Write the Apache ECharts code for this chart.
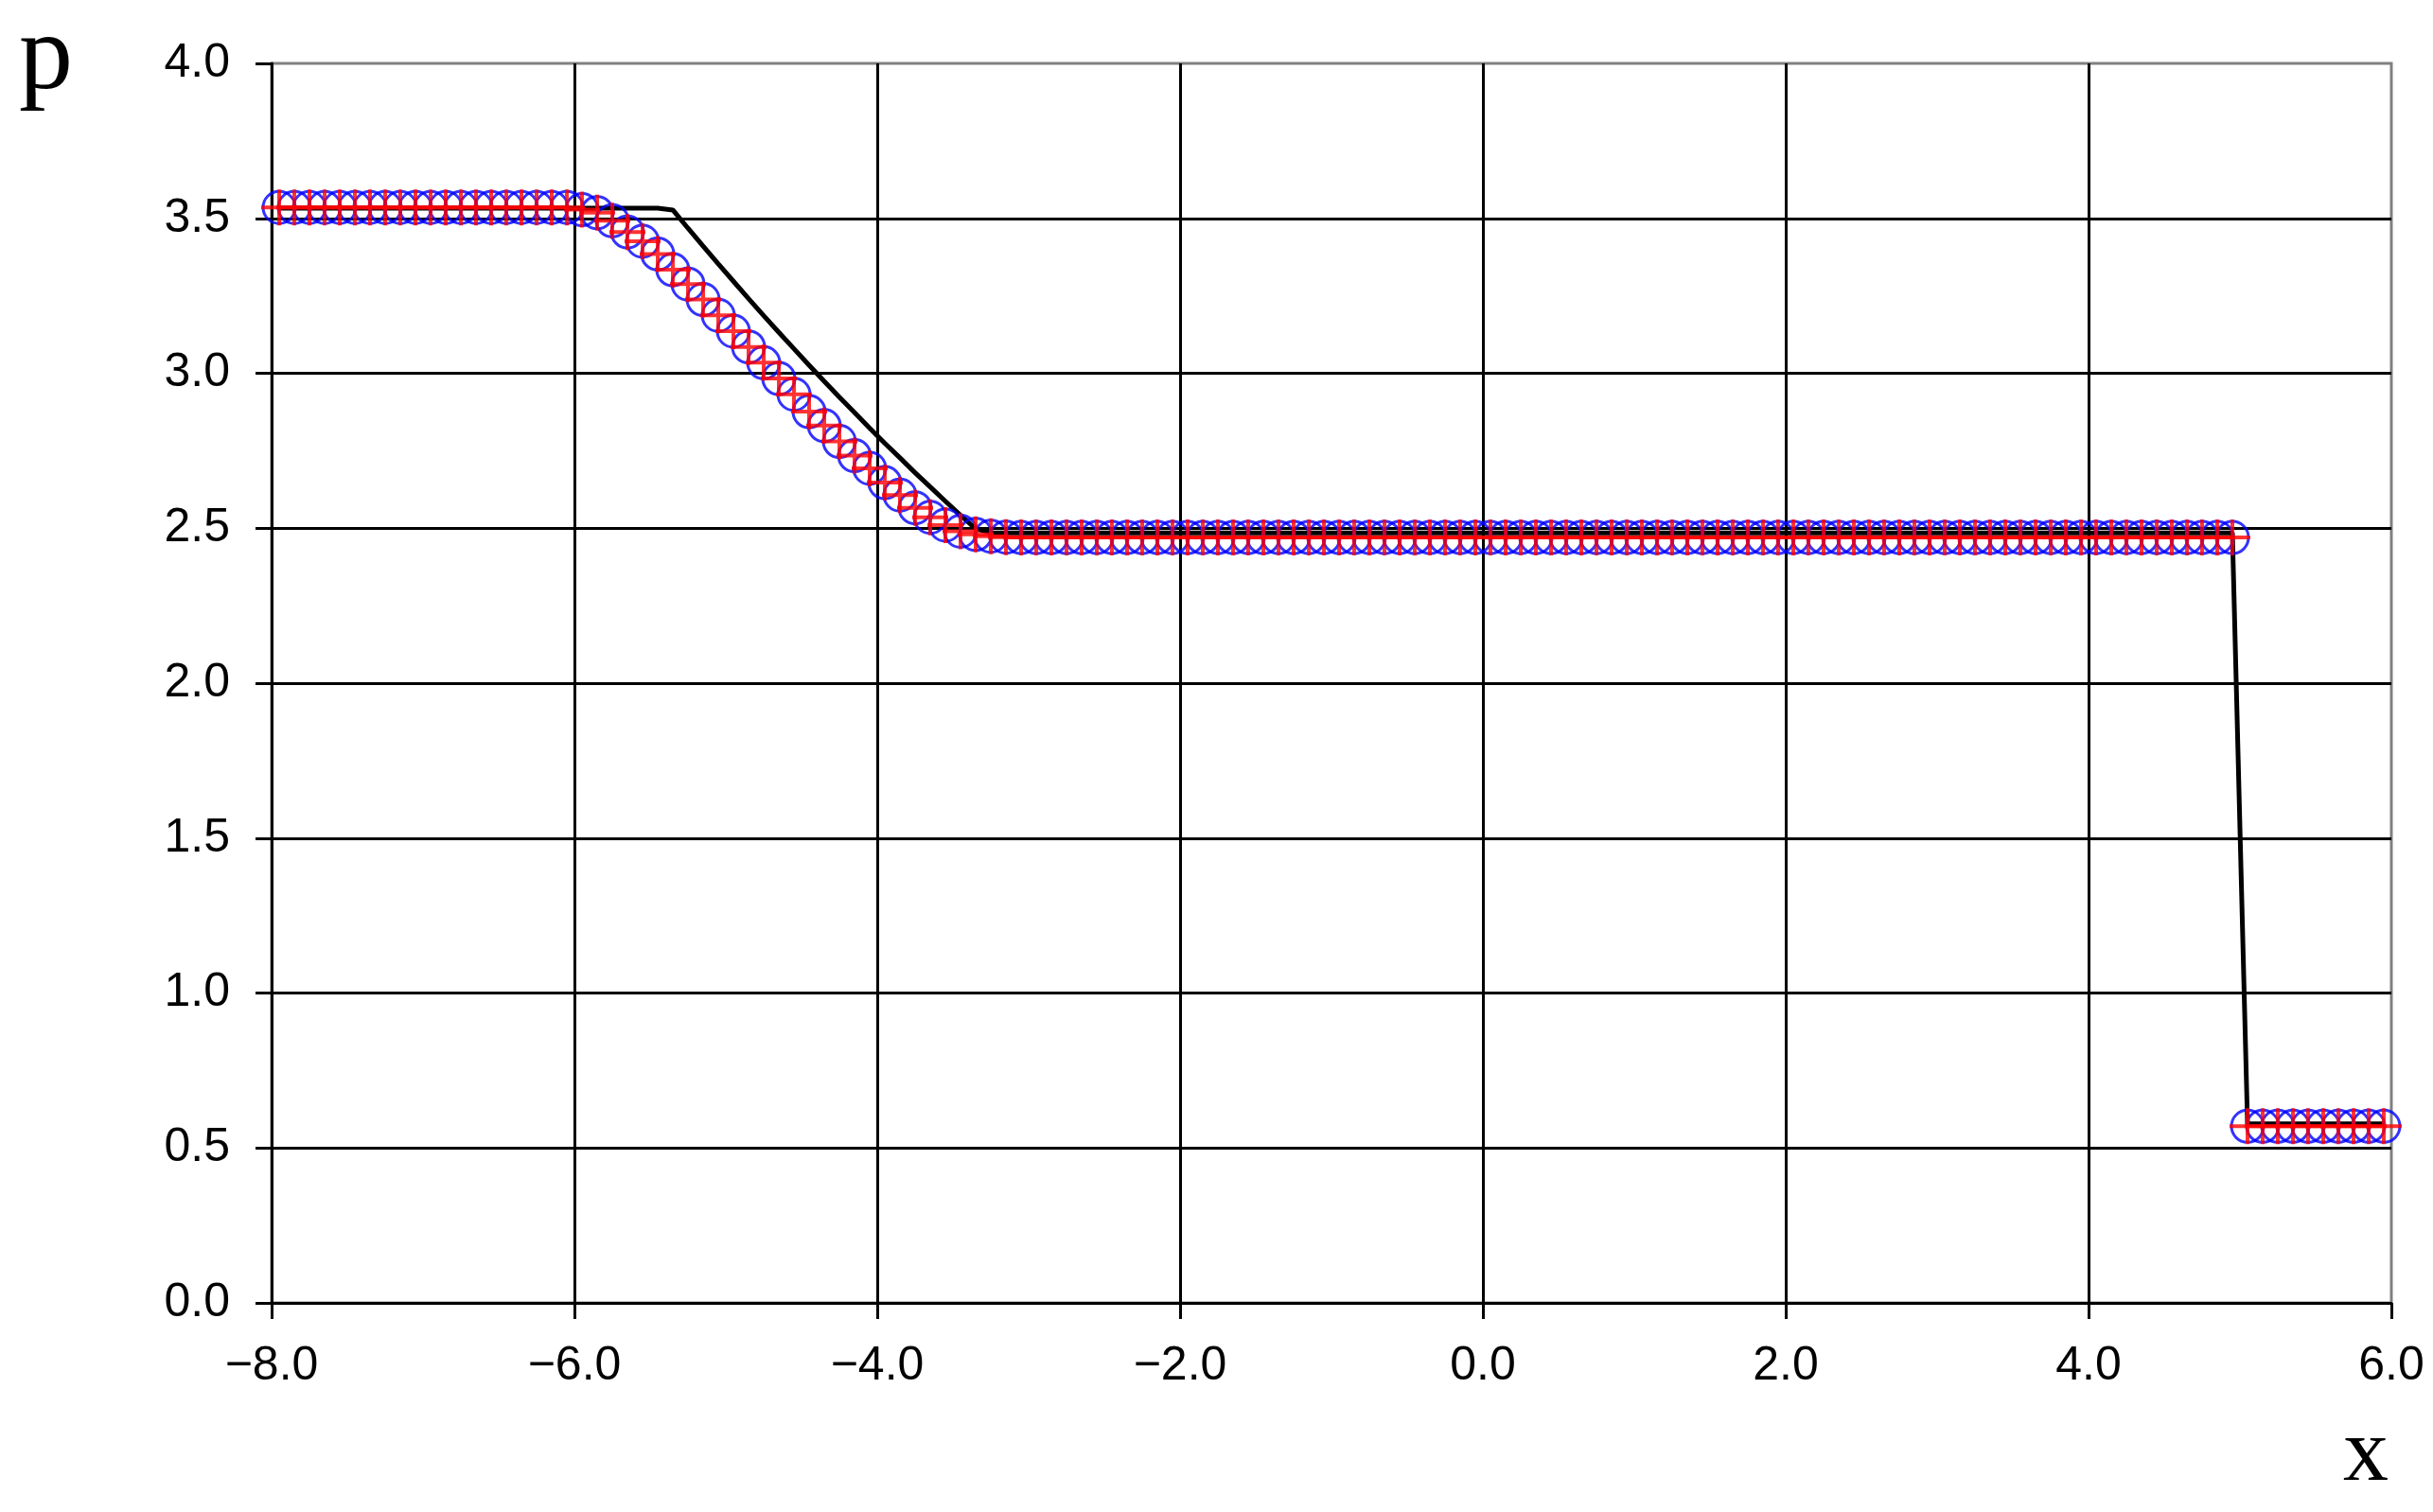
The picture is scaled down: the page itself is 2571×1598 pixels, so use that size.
<!DOCTYPE html>
<html>
<head>
  <meta charset="utf-8">
  <title>p(x)</title>
  <script src="https://cdn.jsdelivr.net/npm/echarts@6/dist/echarts.min.js"></script>
  <style>
    html, body { margin: 0; padding: 0; background: #fff; }
    #chart { width: 2571px; height: 1598px; }
  </style>
</head>
<body>
  <div id="chart"></div>
  <script>
    // cell centres, dx = 0.1
    var xCell = [
      -7.95, -7.85, -7.75, -7.65, -7.55, -7.45, -7.35, -7.25, -7.15, -7.05,
      -6.95, -6.85, -6.75, -6.65, -6.55, -6.45, -6.35, -6.25, -6.15, -6.05,
      -5.95, -5.85, -5.75, -5.65, -5.55, -5.45, -5.35, -5.25, -5.15, -5.05,
      -4.95, -4.85, -4.75, -4.65, -4.55, -4.45, -4.35, -4.25, -4.15, -4.05,
      -3.95, -3.85, -3.75, -3.65, -3.55, -3.45, -3.35, -3.25, -3.15, -3.05,
      -2.95, -2.85, -2.75, -2.65, -2.55, -2.45, -2.35, -2.25, -2.15, -2.05,
      -1.95, -1.85, -1.75, -1.65, -1.55, -1.45, -1.35, -1.25, -1.15, -1.05,
      -0.95, -0.85, -0.75, -0.65, -0.55, -0.45, -0.35, -0.25, -0.15, -0.05,
      0.05, 0.15, 0.25, 0.35, 0.45, 0.55, 0.65, 0.75, 0.85, 0.95,
      1.05, 1.15, 1.25, 1.35, 1.45, 1.55, 1.65, 1.75, 1.85, 1.95,
      2.05, 2.15, 2.25, 2.35, 2.45, 2.55, 2.65, 2.75, 2.85, 2.95,
      3.05, 3.15, 3.25, 3.35, 3.45, 3.55, 3.65, 3.75, 3.85, 3.95,
      4.05, 4.15, 4.25, 4.35, 4.45, 4.55, 4.65, 4.75, 4.85, 4.95,
      5.05, 5.15, 5.25, 5.35, 5.45, 5.55, 5.65, 5.75, 5.85, 5.95
    ];

    // exact solution (black line)
    var pExact = [
      3.533, 3.533, 3.533, 3.533, 3.533, 3.533, 3.533, 3.533, 3.533, 3.533,
      3.533, 3.533, 3.533, 3.533, 3.533, 3.533, 3.533, 3.533, 3.533, 3.533,
      3.533, 3.533, 3.533, 3.533, 3.533, 3.533, 3.527, 3.468, 3.410, 3.353,
      3.297, 3.241, 3.186, 3.132, 3.079, 3.026, 2.974, 2.923, 2.873, 2.823,
      2.774, 2.727, 2.679, 2.633, 2.587, 2.542, 2.498, 2.485, 2.485, 2.485,
      2.485, 2.485, 2.485, 2.485, 2.485, 2.485, 2.485, 2.485, 2.485, 2.485,
      2.485, 2.485, 2.485, 2.485, 2.485, 2.485, 2.485, 2.485, 2.485, 2.485,
      2.485, 2.485, 2.485, 2.485, 2.485, 2.485, 2.485, 2.485, 2.485, 2.485,
      2.485, 2.485, 2.485, 2.485, 2.485, 2.485, 2.485, 2.485, 2.485, 2.485,
      2.485, 2.485, 2.485, 2.485, 2.485, 2.485, 2.485, 2.485, 2.485, 2.485,
      2.485, 2.485, 2.485, 2.485, 2.485, 2.485, 2.485, 2.485, 2.485, 2.485,
      2.485, 2.485, 2.485, 2.485, 2.485, 2.485, 2.485, 2.485, 2.485, 2.485,
      2.485, 2.485, 2.485, 2.485, 2.485, 2.485, 2.485, 2.485, 2.485, 2.485,
      0.578, 0.578, 0.578, 0.578, 0.578, 0.578, 0.578, 0.578, 0.578, 0.578
    ];

    // numerical solution (blue circles + red crosses)
    var pNumeric = [
      3.535, 3.535, 3.535, 3.535, 3.535, 3.535, 3.535, 3.535, 3.535, 3.535,
      3.535, 3.535, 3.535, 3.535, 3.535, 3.535, 3.535, 3.535, 3.535, 3.535,
      3.528, 3.518, 3.492, 3.456, 3.426, 3.385, 3.334, 3.288, 3.238, 3.187,
      3.136, 3.085, 3.034, 2.983, 2.932, 2.876, 2.831, 2.780, 2.734, 2.693,
      2.647, 2.607, 2.566, 2.535, 2.510, 2.490, 2.480, 2.474, 2.471, 2.470,
      2.470, 2.470, 2.470, 2.470, 2.470, 2.470, 2.470, 2.470, 2.470, 2.470,
      2.470, 2.470, 2.470, 2.470, 2.470, 2.470, 2.470, 2.470, 2.470, 2.470,
      2.470, 2.470, 2.470, 2.470, 2.470, 2.470, 2.470, 2.470, 2.470, 2.470,
      2.470, 2.470, 2.470, 2.470, 2.470, 2.470, 2.470, 2.470, 2.470, 2.470,
      2.470, 2.470, 2.470, 2.470, 2.470, 2.470, 2.470, 2.470, 2.470, 2.470,
      2.470, 2.470, 2.470, 2.470, 2.470, 2.470, 2.470, 2.470, 2.470, 2.470,
      2.470, 2.470, 2.470, 2.470, 2.470, 2.470, 2.470, 2.470, 2.470, 2.470,
      2.470, 2.470, 2.470, 2.470, 2.470, 2.470, 2.470, 2.470, 2.470, 2.470,
      0.570, 0.570, 0.570, 0.570, 0.570, 0.570, 0.570, 0.570, 0.570, 0.570
    ];

    function pairs(xs, ys) {
      var out = [];
      for (var i = 0; i < xs.length; i++) out.push([xs[i], ys[i]]);
      return out;
    }

    function fmt(v) {
      return v.toFixed(1).replace('-', '\u2212');
    }

    // plus sign, stroke ~4px when drawn at 38px
    var plusPath = 'path://M17,0H21V17H38V21H21V38H17V21H0V17H17Z';
    var labelFont = { color: '#000', fontFamily: 'Liberation Sans, Arial, sans-serif', fontSize: 50 };

    var chart = echarts.init(document.getElementById('chart'));
    chart.setOption({
      animation: false,
      backgroundColor: '#fff',
      grid: {
        left: 287, right: 44, top: 67, bottom: 221,
        show: true, borderColor: '#808080', borderWidth: 3
      },
      xAxis: {
        type: 'value', min: -8, max: 6, interval: 2,
        axisLine: { onZero: false, lineStyle: { color: '#000', width: 3 } },
        axisTick: { show: true, length: 17, lineStyle: { color: '#000', width: 3 } },
        axisLabel: Object.assign({ margin: 42, formatter: fmt }, labelFont),
        splitLine: { show: true, showMaxLine: false, lineStyle: { color: '#000', width: 3 } }
      },
      yAxis: {
        type: 'value', min: 0, max: 4, interval: 0.5,
        axisLine: { show: true, onZero: false, lineStyle: { color: '#000', width: 3 } },
        axisTick: { show: true, length: 17, lineStyle: { color: '#000', width: 3 } },
        axisLabel: Object.assign({ margin: 44, formatter: fmt }, labelFont),
        splitLine: { show: true, showMaxLine: false, lineStyle: { color: '#000', width: 3 } }
      },
      graphic: [
        { type: 'text', left: 20, top: 6,
          style: { text: 'p', font: '114px "Liberation Serif", "Times New Roman", serif', fill: '#000' } },
        { type: 'text', x: 2500, y: 1539,
          style: { text: 'x', font: '96px "Liberation Serif", "Times New Roman", serif', fill: '#000',
                   align: 'center', verticalAlign: 'middle' } }
      ],
      series: [
        {
          name: 'exact', type: 'line', data: pairs(xCell, pExact),
          showSymbol: false, lineStyle: { color: '#000', width: 5 }, z: 2
        },
        {
          name: 'scheme circles', type: 'scatter', data: pairs(xCell, pNumeric),
          symbol: 'circle', symbolSize: 34,
          itemStyle: { color: 'rgba(0,0,0,0)', borderColor: '#0000ff', borderWidth: 3 }, z: 3
        },
        {
          name: 'scheme crosses', type: 'scatter', data: pairs(xCell, pNumeric),
          symbol: plusPath, symbolSize: 38,
          itemStyle: { color: '#ff0000' }, z: 4
        }
      ]
    });
  </script>
</body>
</html>
